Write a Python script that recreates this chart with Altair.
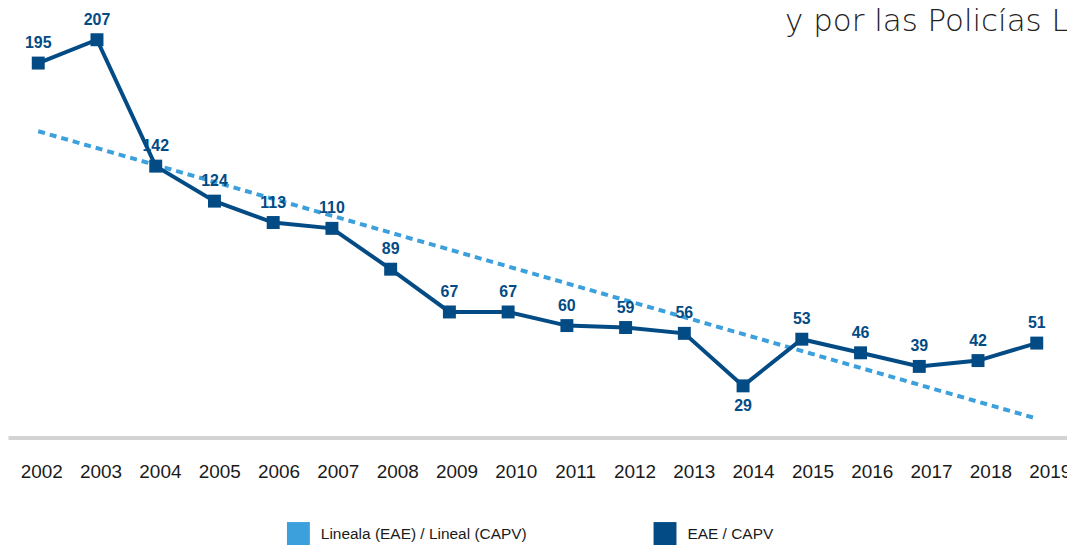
import altair as alt
import pandas as pd

# ---- data ----
years = [2002, 2003, 2004, 2005, 2006, 2007, 2008, 2009, 2010,
         2011, 2012, 2013, 2014, 2015, 2016, 2017, 2018, 2019]
values = [195, 207, 142, 124, 113, 110, 89, 67, 67,
          60, 59, 56, 29, 53, 46, 39, 42, 51]
series_main = "EAE / CAPV"
series_trend = "Lineala (EAE) / Lineal (CAPV)"
legend_order = [series_trend, series_main]
title_text = "y por las Policías Locales"

df = pd.DataFrame({"year": years, "value": values, "series": series_main})

DARK = "#034b85"
LIGHT = "#3ba0dc"
NARROW = "Liberation Sans Narrow, Liberation Sans, Arial, sans-serif"

x = alt.X(
    "year:O",
    scale=alt.Scale(type="point", padding=0.515),
    axis=alt.Axis(
        title=None, ticks=False, grid=False,
        domainColor="#d3d3d3", domainWidth=4,
        labelFont="Liberation Sans", labelFontSize=19, labelColor="#1a1a1a",
        labelPadding=25, labelAngle=0,
        labelOffset=alt.ExprRef(expr="3 + 10*datum.index"),
    ),
)
y = alt.Y("value:Q", scale=alt.Scale(domain=[2.5, 222.8], nice=False, zero=False), axis=None)

base = alt.Chart(df)

trend = base.transform_regression("year", "value").mark_line(
    color=LIGHT, strokeWidth=4, strokeDash=[7, 5]
).encode(x=x, y=y)

line = base.mark_line(color=DARK, strokeWidth=4).encode(x=x, y=y)

squares = base.mark_square(size=169, opacity=1, filled=True).encode(
    x=x, y=y,
    color=alt.Color(
        "series:N",
        scale=alt.Scale(domain=legend_order, range=[LIGHT, DARK]),
        legend=alt.Legend(
            title=None, orient="none", legendX=280, legendY=515,
            direction="horizontal", columns=2,
            symbolType="square", symbolSize=529, symbolStrokeWidth=0,
            labelFont=NARROW, labelFontSize=15.5, labelColor="#1a1a1a",
            labelOffset=11, labelLimit=400, columnPadding=127, padding=0,
        ),
    ),
)

labels_up = base.transform_filter("datum.year != 2014").mark_text(
    dy=-15, baseline="alphabetic", font=NARROW, fontSize=16,
    fontWeight="bold", color=DARK
).encode(x=x, y=y, text="value:Q")

labels_down = base.transform_filter("datum.year == 2014").mark_text(
    dy=25, baseline="alphabetic", font=NARROW, fontSize=16,
    fontWeight="bold", color=DARK
).encode(x=x, y=y, text="value:Q")

chart = alt.layer(trend, line, squares, labels_up, labels_down).properties(
    width=1063, height=430,
    autosize=alt.AutoSizeParams(type="none"),
    padding={"left": 0, "top": 0, "right": 0, "bottom": 108},
    title=alt.TitleParams(
        text=title_text, anchor="start", frame="group", dx=780, offset=-53,
        baseline="alphabetic", font="DejaVu Sans", fontSize=31, fontWeight=200,
        color="#222222",
    ),
).configure_view(stroke=None)

chart.save("out.html", embed_options={"renderer": "svg", "actions": False})
